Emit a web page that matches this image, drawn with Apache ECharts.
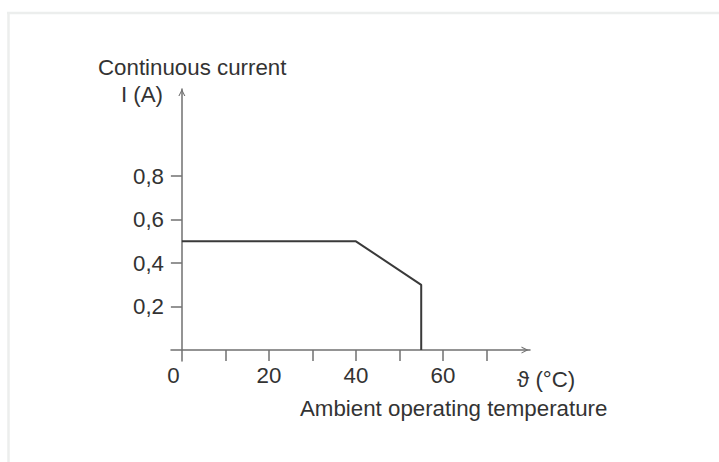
<!DOCTYPE html>
<html>
<head>
<meta charset="utf-8">
<script src="https://cdn.jsdelivr.net/npm/echarts@6/dist/echarts.min.js"></script>
<style>
  html, body { margin: 0; padding: 0; background: #ffffff; }
  #chart { width: 719px; height: 462px; }
</style>
</head>
<body>
<div id="chart"></div>
<script>
// Data
const temperatures = [0, 40, 55, 55];
const currents = [0.5, 0.5, 0.3, 0];
const xTickValues = [10, 20, 30, 40, 50, 60, 70];
const xLabelValues = [0, 20, 40, 60];
const yTickValues = [0.2, 0.4, 0.6, 0.8];
const yLabelValues = [0.2, 0.4, 0.6, 0.8];
const yTitle1 = 'Continuous current';
const yTitle2 = 'I (A)';
const xUnit = 'ϑ (°C)';
const xTitle = 'Ambient operating temperature';

const FONT = '"Liberation Sans", Arial, sans-serif';
const FS = 22.3;
const TXT = '#333333';
const AX = '#707070';
const arrow = 'path://M0,10 L5,0 L10,10 L8.4,10 L5,3.2 L1.6,10 Z';

const chart = echarts.init(document.getElementById('chart'), null, { renderer: 'svg' });
chart.setOption({
  backgroundColor: '#ffffff',
  animation: false,
  grid: { left: 171, top: 89, width: 359, height: 272, containLabel: false },
  xAxis: {
    type: 'value', min: -2.5, max: 80,
    axisLine: { show: true, onZero: true, symbol: ['none', arrow], symbolSize: [8, 7],
      symbolOffset: [0, -5],
      lineStyle: { color: AX, width: 1.5 } },
    axisTick: { show: true, customValues: xTickValues, length: 11, inside: false,
      lineStyle: { color: AX, width: 1.5 } },
    axisLabel: { show: true, customValues: xLabelValues, margin: 3,
      color: TXT, fontSize: FS, fontFamily: FONT,
      formatter: function (v) { return v === 0 ? '{z|0}' : String(v); },
      rich: { z: { color: TXT, fontSize: FS, fontFamily: FONT, padding: [0, 17, 0, 0] } } },
    splitLine: { show: false }
  },
  yAxis: {
    type: 'value', min: -0.05, max: 1.2,
    axisLine: { show: true, onZero: true, symbol: ['none', arrow], symbolSize: [8, 7],
      symbolOffset: [0, -3.5],
      lineStyle: { color: AX, width: 1.5 } },
    axisTick: { show: true, customValues: yTickValues, length: 11, inside: false,
      lineStyle: { color: AX, width: 1.5 } },
    axisLabel: { show: true, customValues: yLabelValues, margin: 7,
      color: TXT, fontSize: FS, fontFamily: FONT,
      formatter: function (v) { return v.toFixed(1).replace('.', ','); } },
    splitLine: { show: false }
  },
  series: [{
    type: 'line',
    data: temperatures.map((t, i) => [t, currents[i]]),
    symbol: 'none',
    lineStyle: { color: '#3a3a3a', width: 2 },
    silent: true
  }],
  graphic: [
    { type: 'line', shape: { x1: 7, y1: 13, x2: 719, y2: 13 }, style: { stroke: '#eceeed', lineWidth: 2.5 } },
    { type: 'line', shape: { x1: 8.5, y1: 12, x2: 8.5, y2: 462 }, style: { stroke: '#eceeed', lineWidth: 2.5 } },
    { type: 'text', left: 98, top: 56, style: { text: yTitle1, font: FS + 'px ' + FONT, fill: TXT } },
    { type: 'text', right: 719 - 163, top: 83, style: { text: yTitle2, font: FS + 'px ' + FONT, fill: TXT } },
    { type: 'text', left: 517, top: 368, style: { text: xUnit, font: FS + 'px ' + FONT, fill: TXT } },
    { type: 'text', left: 300, top: 397, style: { text: xTitle, font: FS + 'px ' + FONT, fill: TXT } }
  ]
});
</script>
</body>
</html>
